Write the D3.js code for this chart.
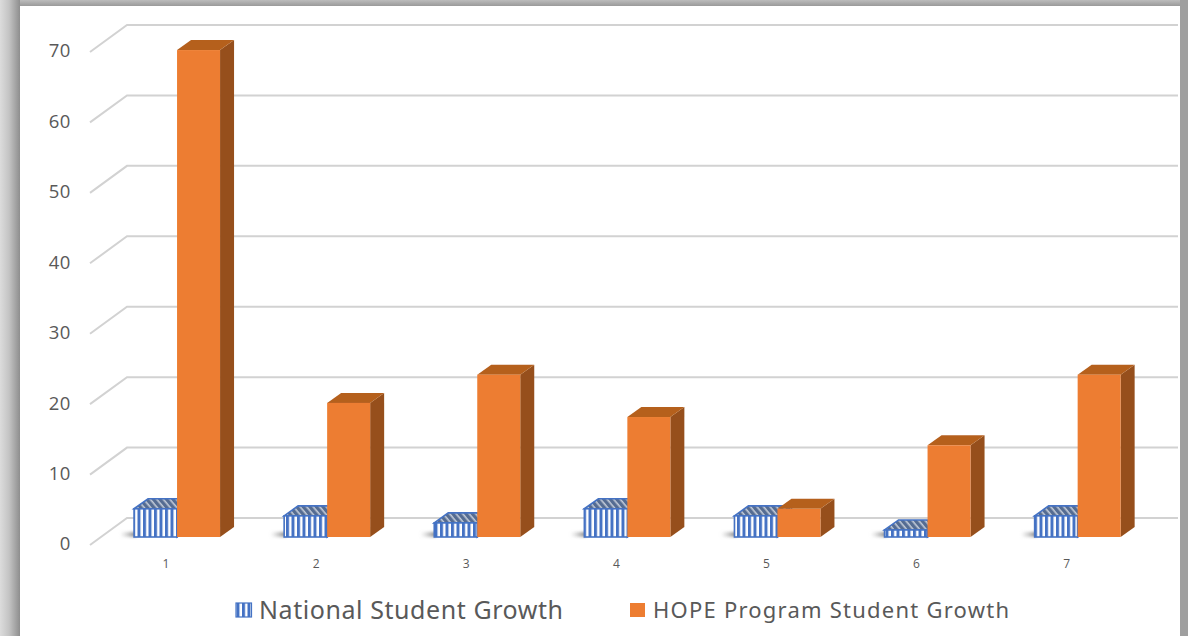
<!DOCTYPE html>
<html>
<head>
<meta charset="utf-8">
<script src="https://cdn.jsdelivr.net/npm/d3@7"></script>
<style>
  html, body { margin: 0; padding: 0; background: #fff; overflow: hidden; }
  svg { display: block; }
</style>
</head>
<body>
<div id="chart"></div>
<script>
const categories = ["1", "2", "3", "4", "5", "6", "7"];
const nationalGrowth = [4, 3, 2, 4, 3, 1, 3];
const hopeGrowth = [69, 19, 23, 17, 4, 13, 23];
const yTicks = [0, 10, 20, 30, 40, 50, 60, 70];
const seriesNames = ["National Student Growth", "HOPE Program Student Growth"];

const width = 1188, height = 636;
const depthX = 14, depthY = 10;      // bar depth
const wallX = 36, wallY = 27;        // floor depth

const svg = d3.select("#chart").append("svg")
  .attr("width", width).attr("height", height);
const defs = svg.append("defs");

// frame gradients
const gradL = defs.append("linearGradient").attr("id", "frameLeft");
gradL.append("stop").attr("offset", 0).attr("stop-color", "#dcdcdc");
gradL.append("stop").attr("offset", 0.45).attr("stop-color", "#c4c4c4");
gradL.append("stop").attr("offset", 1).attr("stop-color", "#8e8e8e");
const gradT = defs.append("linearGradient").attr("id", "frameTop")
  .attr("x1", 0).attr("x2", 0).attr("y1", 0).attr("y2", 1);
gradT.append("stop").attr("offset", 0).attr("stop-color", "#bcbcbc");
gradT.append("stop").attr("offset", 1).attr("stop-color", "#9a9a9a");

const soft = defs.append("filter").attr("id", "soft");
soft.append("feGaussianBlur").attr("stdDeviation", 0.4);
const shadowBlur = defs.append("filter").attr("id", "shadowBlur")
  .attr("x", "-30%").attr("y", "-100%").attr("width", "160%").attr("height", "300%");
shadowBlur.append("feGaussianBlur").attr("stdDeviation", 1.5);

const shadowGrad = defs.append("linearGradient").attr("id", "floorShadow");
shadowGrad.append("stop").attr("offset", 0).attr("stop-color", "#aaa").attr("stop-opacity", 0);
shadowGrad.append("stop").attr("offset", 1).attr("stop-color", "#666").attr("stop-opacity", 0.85);

// striped fills
const front = defs.append("pattern").attr("id", "stripes")
  .attr("patternUnits", "userSpaceOnUse").attr("width", 5.5).attr("height", 6);
front.append("rect").attr("width", 5.5).attr("height", 6).attr("fill", "#fff");
front.append("rect").attr("width", 3).attr("height", 6).attr("fill", "#4472c4");

const topHatch = defs.append("pattern").attr("id", "hatchTop")
  .attr("patternUnits", "userSpaceOnUse").attr("width", 5).attr("height", 5)
  .attr("patternTransform", "rotate(-40)");
topHatch.append("rect").attr("width", 5).attr("height", 5).attr("fill", "#c3cbd8");
topHatch.append("rect").attr("width", 3.4).attr("height", 5).attr("fill", "#556c92");

const sideHatch = defs.append("pattern").attr("id", "hatchSide")
  .attr("patternUnits", "userSpaceOnUse").attr("width", 4).attr("height", 4);
sideHatch.append("rect").attr("width", 4).attr("height", 4).attr("fill", "#e2e6ee");
sideHatch.append("rect").attr("width", 2).attr("height", 4).attr("fill", "#33558f");

// scales
const x = d3.scaleBand().domain(categories).range([102, 1152.7]);
const xAxisScale = d3.scaleBand().domain(categories).range([91, 1141.7]);
const wallScale = d3.scaleLinear().domain([0, 70]).range([545, 52]);
const barScale = d3.scaleLinear().domain([0, 70]).range([537, 43]);
const barW = 43;

// back wall gridlines + left diagonals
const grid = svg.append("g");
yTicks.forEach(t => {
  const fy = wallScale(t);
  grid.append("path")
    .attr("d", d3.line()([[90, fy], [90 + wallX + 1, fy - wallY], [1178, fy - wallY]]))
    .attr("fill", "none").attr("stroke", "#d2d2d2").attr("stroke-width", 2);
});

// y axis labels
const yAxis = d3.axisLeft(wallScale).tickValues(yTicks).tickSize(0).tickPadding(0);
const yG = svg.append("g").attr("transform", "translate(71,-1)").call(yAxis);
yG.select(".domain").remove();
yG.selectAll("text").attr("fill", "#595959")
  .style("font-family", "'Open Sans', sans-serif").style("font-size", "18.5px")
  .style("letter-spacing", "0.6px");

// x axis labels
const xAxis = d3.axisBottom(xAxisScale).tickSize(0).tickPadding(0);
const xG = svg.append("g").attr("transform", "translate(0,559)").call(xAxis);
xG.select(".domain").remove();
xG.selectAll("text").attr("fill", "#595959")
  .style("font-family", "'Open Sans', sans-serif").style("font-size", "12px");

function drawBar(g, x0, value, w, fills) {
  const yTop = barScale(value), yBase = barScale(0);
  g.append("path")
    .attr("d", d3.line()([[x0 + w, yBase], [x0 + w, yTop], [x0 + w + depthX, yTop - depthY], [x0 + w + depthX, yBase - depthY]]) + "Z")
    .attr("fill", fills.side).attr("stroke", fills.stroke).attr("stroke-width", fills.sw);
  g.append("path")
    .attr("d", d3.line()([[x0, yTop], [x0 + depthX, yTop - depthY], [x0 + w + depthX, yTop - depthY], [x0 + w, yTop]]) + "Z")
    .attr("fill", fills.top).attr("stroke", fills.stroke).attr("stroke-width", fills.sw);
  g.append("rect")
    .attr("x", x0).attr("y", yTop).attr("width", w).attr("height", yBase - yTop)
    .attr("fill", fills.front).attr("stroke", fills.stroke).attr("stroke-width", fills.sw);
}

const blueFill = { front: "url(#stripes)", top: "url(#hatchTop)", side: "url(#hatchSide)", stroke: "#4472c4", sw: 1.6 };
const orangeFill = { front: "#ed7d31", top: "#b5601f", side: "#96501b", stroke: "none", sw: 0 };

const bars = svg.append("g");
categories.forEach((c, i) => {
  const mid = x(c) + x.step() / 2;
  // shadow on the floor, left of the blue bar
  bars.append("rect")
    .attr("x", mid - barW - 14).attr("y", barScale(0) - 5)
    .attr("width", 16).attr("height", 5).attr("fill", "url(#floorShadow)")
    .attr("filter", "url(#shadowBlur)");
  const g = bars.append("g").attr("filter", "url(#soft)");
  drawBar(g, mid - barW, nationalGrowth[i], barW, blueFill);
  drawBar(g, mid, hopeGrowth[i], barW, orangeFill);
});

// legend
const legend = svg.append("g");
legend.append("rect").attr("x", 236).attr("y", 603)
  .attr("width", 15.5).attr("height", 14)
  .attr("fill", "url(#stripes)").attr("stroke", "#4472c4").attr("stroke-width", 1.2);
legend.append("text").attr("x", 259).attr("y", 618.5)
  .attr("fill", "#595959").style("font-family", "'Noto Sans', sans-serif")
  .style("font-size", "25px").attr("textLength", 304).text(seriesNames[0]);
legend.append("rect").attr("x", 630).attr("y", 603)
  .attr("width", 15).attr("height", 14).attr("fill", "#ed7d31");
legend.append("text").attr("x", 653).attr("y", 618)
  .attr("fill", "#595959").style("font-family", "'Noto Sans', sans-serif")
  .style("font-size", "22px").attr("textLength", 356).text(seriesNames[1]);

// grey picture frame
const frame = svg.append("g");
frame.append("rect").attr("x", 0).attr("y", 0).attr("width", width).attr("height", 6).attr("fill", "url(#frameTop)");
frame.append("rect").attr("x", 0).attr("y", 0).attr("width", 20).attr("height", height).attr("fill", "url(#frameLeft)");
frame.append("rect").attr("x", 1180).attr("y", 0).attr("width", 8).attr("height", height).attr("fill", "#9f9f9f");
</script>
</body>
</html>
